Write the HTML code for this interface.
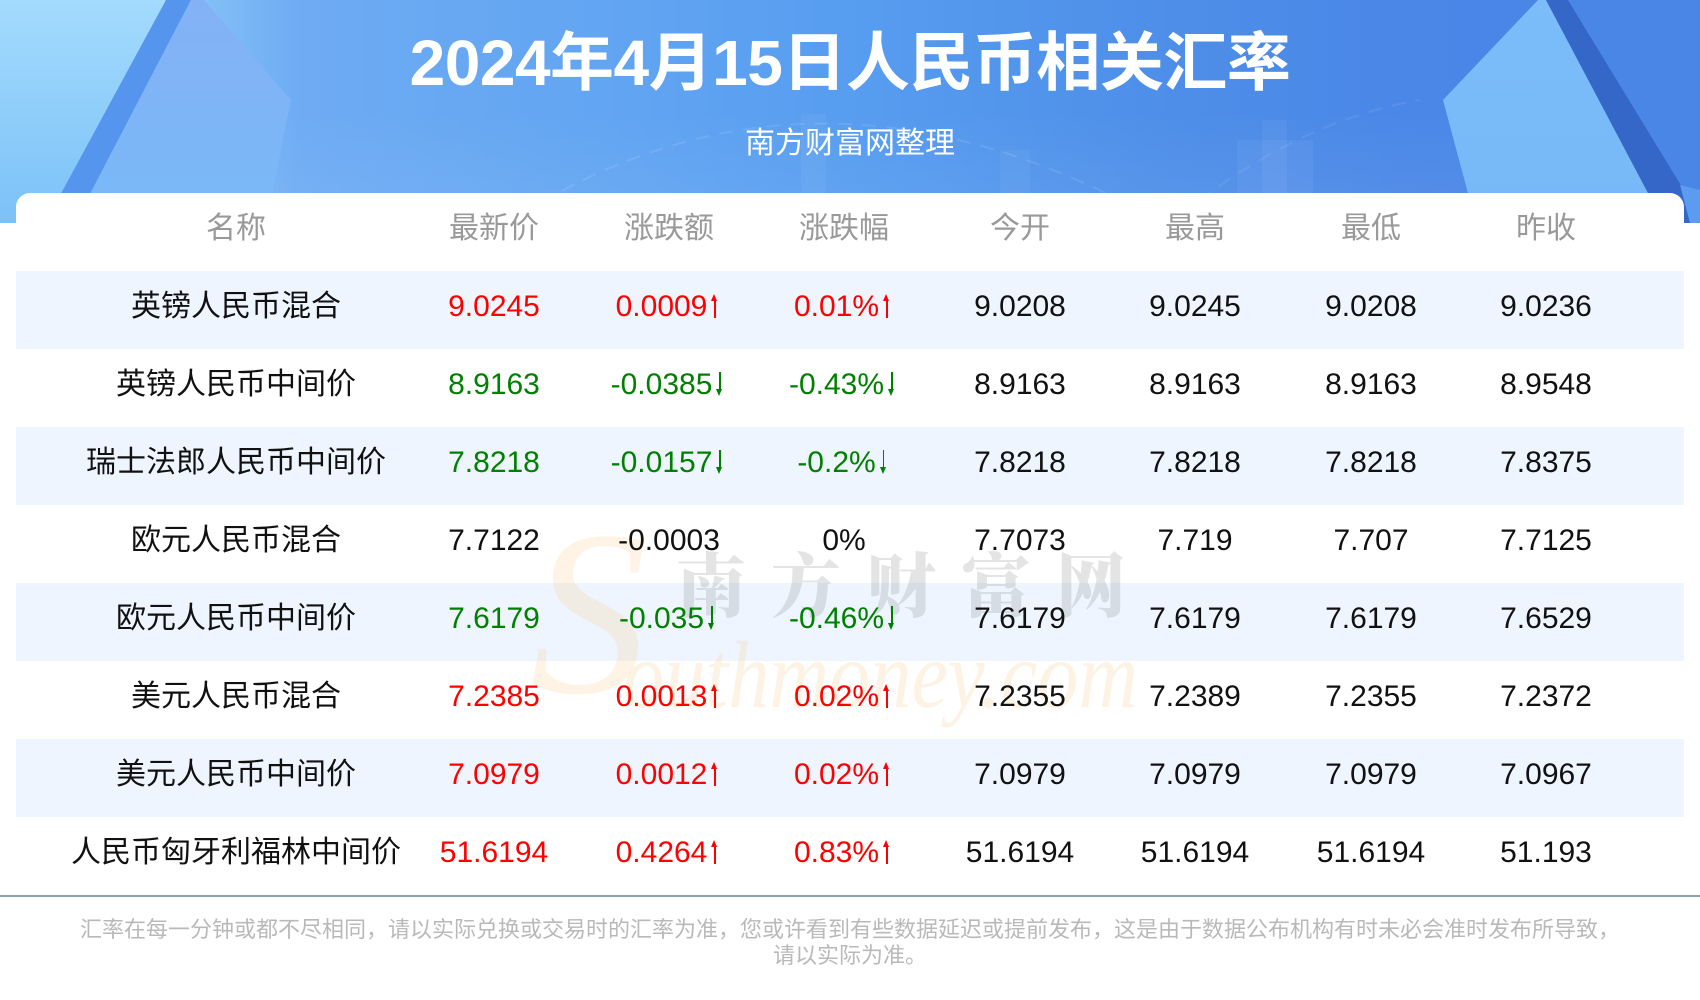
<!DOCTYPE html>
<html><head><meta charset="utf-8">
<style>
*{margin:0;padding:0;box-sizing:border-box}
html,body{width:1700px;height:1000px;background:#fff;overflow:hidden}
body{position:relative;font-family:"Liberation Sans","Noto Sans CJK SC",sans-serif}
#hdr{position:absolute;left:0;top:0;width:1700px;height:223px;
background:linear-gradient(to right,#a2d9fd 0,#8cc9fa 160px,#6eabf3 300px,#62a5f2 600px,#579df0 850px,#4e8fe9 1150px,#4a87e7 1400px,#4885e6 1700px)}
#hdr svg{position:absolute;left:0;top:0}
.title{position:absolute;left:0;top:23px;width:1700px;text-align:center;color:#fff;font-size:64px;font-weight:700;line-height:80px;white-space:nowrap;letter-spacing:-0.5px}
.sub{position:absolute;left:0;top:124px;width:1700px;text-align:center;color:#fff;font-size:30px;line-height:40px;white-space:nowrap}
#card{position:absolute;left:16px;top:193px;width:1668px;height:720px;background:#fff;border-radius:14px 14px 0 0}
.band{position:absolute;left:16px;width:1668px;height:78px;background:#eef5fe}
.row{position:absolute;left:16px;width:1668px;height:78px;z-index:3}
.c{position:absolute;top:0;height:78px;line-height:71px;text-align:center;font-size:30px;white-space:nowrap;color:#111;width:200px}
.n{width:420px;left:10px}
.c1{left:378px}.c2{left:553px}.c3{left:728px}.c4{left:904px}.c5{left:1079px}.c6{left:1255px}.c7{left:1430px}
.r{color:#ff0000}.g{color:#008000}
.hd .c{color:#999}
.ar{display:inline-block;position:relative;width:15px;height:24px;overflow:hidden;vertical-align:-2px;-webkit-text-fill-color:transparent;font-size:20px;line-height:24px}
.ar::before{content:"";position:absolute;left:7px;width:1.7px;height:18px;background:currentColor}
.ar::after{content:"";position:absolute;left:4px;width:0;height:0;border-left:3.9px solid transparent;border-right:3.9px solid transparent}
.up::before{top:6px}
.up::after{top:0;border-bottom:7px solid currentColor}
.dn::before{top:0}
.dn::after{top:17px;border-top:7px solid currentColor}
#wm{position:absolute;left:0;top:0;z-index:2}
.line{position:absolute;left:0;top:895px;width:1700px;height:2px;background:#8da2bb}
.foot{position:absolute;left:0;top:917px;width:1700px;text-align:center;font-size:22px;line-height:26px;color:#b9b9b9;white-space:nowrap}
</style></head>
<body>
<div id="hdr">
<svg width="1700" height="223" viewBox="0 0 1700 223">
<defs>
<linearGradient id="lg1" x1="0" y1="0" x2="0" y2="1">
<stop offset="0" stop-color="#a3dbfd"/><stop offset="1" stop-color="#7cc1f8"/></linearGradient>
<linearGradient id="lg2" x1="0" y1="0" x2="0" y2="1">
<stop offset="0" stop-color="#84b1f6"/><stop offset="1" stop-color="#78b9f7"/></linearGradient>
<linearGradient id="lg3" x1="0" y1="0" x2="0" y2="1">
<stop offset="0" stop-color="#7bbcf9"/><stop offset="1" stop-color="#77b8f8"/></linearGradient>
<linearGradient id="lgv" x1="0" y1="0" x2="0" y2="1">
<stop offset="0.5" stop-color="#fff" stop-opacity="0"/><stop offset="1" stop-color="#fff" stop-opacity="0.07"/></linearGradient>
</defs>
<rect x="0" y="0" width="1700" height="223" fill="url(#lgv)"/>
<polygon points="0,0 166,0 45,223 0,223" fill="url(#lg1)"/>
<polygon points="166,0 191,0 75,223 45,223" fill="#5595ed"/>
<polygon points="191,0 204,0 291,100 266,223 75,223" fill="url(#lg2)"/>
<rect x="801" y="114" width="25" height="109" fill="#fff" opacity="0.05"/>
<rect x="1237" y="140" width="76" height="83" fill="#fff" opacity="0.05"/>
<rect x="1262" y="120" width="25" height="103" fill="#fff" opacity="0.05"/>
<rect x="1000" y="150" width="30" height="73" fill="#fff" opacity="0.04"/>
<path d="M520 215 Q 800 40 1120 200" stroke="#fff" stroke-opacity="0.1" stroke-width="2" fill="none" stroke-dasharray="14 10"/>
<path d="M1180 215 Q 1300 120 1420 100" stroke="#fff" stroke-opacity="0.08" stroke-width="2" fill="none" stroke-dasharray="14 10"/>
<polygon points="1538,0 1546,0 1648,193 1655,223 1476,223 1443,100" fill="url(#lg3)"/>
<polygon points="1546,0 1568,0 1690,200 1700,223 1655,223 1648,193" fill="#3467c7"/>
<polygon points="1568,0 1700,0 1700,223 1690,200" fill="#4986e6"/>
<polygon points="1680,185 1700,190 1700,223 1690,223" fill="#5b9cf0"/>
</svg>
<div class="title">2024年4月15日人民币相关汇率</div>
<div class="sub">南方财富网整理</div>
</div>

<div id="card"></div>

<div class="band" style="top:271px"></div>
<div class="band" style="top:427px"></div>
<div class="band" style="top:583px"></div>
<div class="band" style="top:739px"></div>

<svg id="wm" width="1700" height="1000" viewBox="0 0 1700 1000">
<text x="530" y="692" font-family="Liberation Serif" font-style="italic" font-size="235" fill="#f9c884" fill-opacity="0.22">S</text>
<text x="623" y="707" font-family="Liberation Serif" font-style="italic" font-size="95" textLength="515" lengthAdjust="spacingAndGlyphs" fill="#f9cf94" fill-opacity="0.25">outhmoney.com</text>
<text x="676" y="611" font-family="Noto Serif CJK SC, Noto Sans CJK SC, sans-serif" font-weight="900" font-size="70" letter-spacing="25" fill="#777" fill-opacity="0.2">南方财富网</text>
</svg>

<div class="row hd" style="top:193px">
<div class="c n">名称</div><div class="c c1">最新价</div><div class="c c2">涨跌额</div><div class="c c3">涨跌幅</div><div class="c c4">今开</div><div class="c c5">最高</div><div class="c c6">最低</div><div class="c c7">昨收</div>
</div>

<div class="row" style="top:271px">
<div class="c n">英镑人民币混合</div><div class="c c1 r">9.0245</div><div class="c c2 r">0.0009<span class="ar up">↑</span></div><div class="c c3 r">0.01%<span class="ar up">↑</span></div><div class="c c4">9.0208</div><div class="c c5">9.0245</div><div class="c c6">9.0208</div><div class="c c7">9.0236</div>
</div>
<div class="row" style="top:349px">
<div class="c n">英镑人民币中间价</div><div class="c c1 g">8.9163</div><div class="c c2 g">-0.0385<span class="ar dn">↓</span></div><div class="c c3 g">-0.43%<span class="ar dn">↓</span></div><div class="c c4">8.9163</div><div class="c c5">8.9163</div><div class="c c6">8.9163</div><div class="c c7">8.9548</div>
</div>
<div class="row" style="top:427px">
<div class="c n">瑞士法郎人民币中间价</div><div class="c c1 g">7.8218</div><div class="c c2 g">-0.0157<span class="ar dn">↓</span></div><div class="c c3 g">-0.2%<span class="ar dn">↓</span></div><div class="c c4">7.8218</div><div class="c c5">7.8218</div><div class="c c6">7.8218</div><div class="c c7">7.8375</div>
</div>
<div class="row" style="top:505px">
<div class="c n">欧元人民币混合</div><div class="c c1">7.7122</div><div class="c c2">-0.0003</div><div class="c c3">0%</div><div class="c c4">7.7073</div><div class="c c5">7.719</div><div class="c c6">7.707</div><div class="c c7">7.7125</div>
</div>
<div class="row" style="top:583px">
<div class="c n">欧元人民币中间价</div><div class="c c1 g">7.6179</div><div class="c c2 g">-0.035<span class="ar dn">↓</span></div><div class="c c3 g">-0.46%<span class="ar dn">↓</span></div><div class="c c4">7.6179</div><div class="c c5">7.6179</div><div class="c c6">7.6179</div><div class="c c7">7.6529</div>
</div>
<div class="row" style="top:661px">
<div class="c n">美元人民币混合</div><div class="c c1 r">7.2385</div><div class="c c2 r">0.0013<span class="ar up">↑</span></div><div class="c c3 r">0.02%<span class="ar up">↑</span></div><div class="c c4">7.2355</div><div class="c c5">7.2389</div><div class="c c6">7.2355</div><div class="c c7">7.2372</div>
</div>
<div class="row" style="top:739px">
<div class="c n">美元人民币中间价</div><div class="c c1 r">7.0979</div><div class="c c2 r">0.0012<span class="ar up">↑</span></div><div class="c c3 r">0.02%<span class="ar up">↑</span></div><div class="c c4">7.0979</div><div class="c c5">7.0979</div><div class="c c6">7.0979</div><div class="c c7">7.0967</div>
</div>
<div class="row" style="top:817px">
<div class="c n">人民币匈牙利福林中间价</div><div class="c c1 r">51.6194</div><div class="c c2 r">0.4264<span class="ar up">↑</span></div><div class="c c3 r">0.83%<span class="ar up">↑</span></div><div class="c c4">51.6194</div><div class="c c5">51.6194</div><div class="c c6">51.6194</div><div class="c c7">51.193</div>
</div>

<div class="line"></div>
<div class="foot">汇率在每一分钟或都不尽相同，请以实际兑换或交易时的汇率为准，您或许看到有些数据延迟或提前发布，这是由于数据公布机构有时未必会准时发布所导致，<br>请以实际为准。</div>
</body></html>
